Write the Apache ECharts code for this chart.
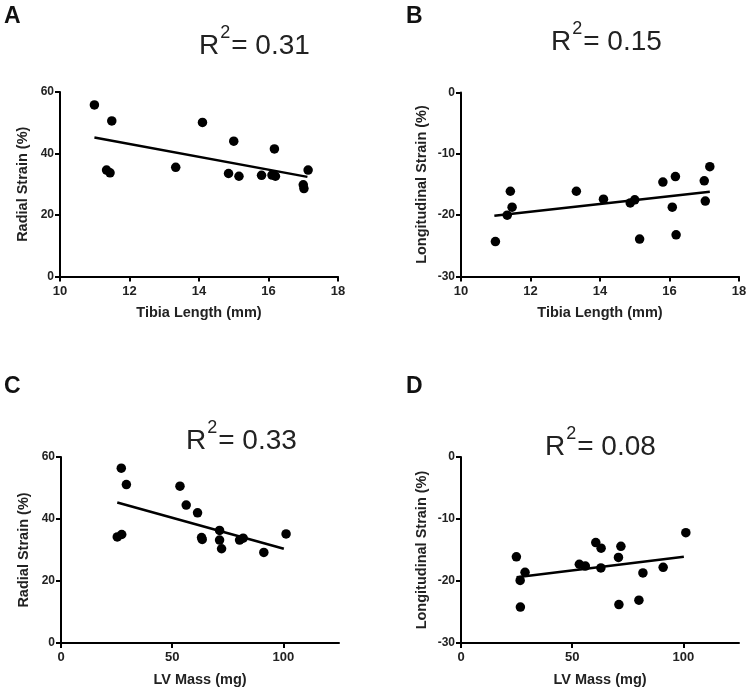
<!DOCTYPE html>
<html lang="en">
<head>
    <meta charset="UTF-8">
    <title>Strain vs size</title>
    <style>
        * { margin: 0; padding: 0; }
        html, body, #chart { width: 750px; height: 695px; overflow: hidden; background: #fff; }
    </style>
</head>
<body>
    <div id="chart"></div>
    <script src="https://cdn.jsdelivr.net/npm/echarts@6.0.0/dist/echarts.min.js"></script>
    <script>
        // values
        let tibiaA = [10.99, 11.49, 11.34, 11.44, 13.33, 14.10, 15.00, 14.85, 15.15, 16.17, 15.80, 16.10, 16.20, 17.14, 17.00, 17.02];
        let radialA = [55.8, 50.6, 34.6, 33.7, 35.5, 50.1, 44.0, 33.5, 32.6, 41.5, 32.9, 33.0, 32.6, 34.6, 29.8, 28.6];

        let tibiaB = [10.99, 11.33, 11.42, 11.47, 13.32, 14.10, 14.87, 15.00, 15.14, 15.81, 16.08, 16.17, 16.19, 17.00, 17.03, 17.16];
        let longB = [-24.3, -20.0, -16.1, -18.7, -16.1, -17.4, -18.0, -17.5, -23.9, -14.6, -18.7, -13.7, -23.2, -14.4, -17.7, -12.1];

        let massC = [27.1, 29.4, 25.3, 27.3, 53.5, 56.3, 61.4, 63.2, 63.5, 71.3, 71.3, 72.2, 80.3, 81.9, 91.2, 101.2];
        let radialC = [56.4, 51.1, 34.2, 35.0, 50.6, 44.5, 42.0, 34.0, 33.4, 36.3, 33.2, 30.4, 33.2, 33.8, 29.2, 35.2];

        let massD = [24.9, 26.6, 28.8, 26.7, 53.2, 55.9, 60.6, 63.0, 62.9, 71.9, 70.8, 71.0, 80.0, 81.8, 90.9, 101.1];
        let longD = [-16.1, -19.9, -18.6, -24.2, -17.3, -17.6, -13.8, -14.7, -17.9, -14.4, -16.2, -23.8, -23.1, -18.7, -17.8, -12.2];

        // regression line end points
        let fitA = [[10.99, 45.2], [17.12, 32.4]];
        let fitB = [[10.96, -20.1], [17.16, -16.2]];
        let fitC = [[25.3, 45.3], [100.2, 30.4]];
        let fitD = [[25.0, -19.4], [100.2, -16.1]];

        let panelLetters = ['A', 'B', 'C', 'D'];
        let r2Values = ['0.31', '0.15', '0.33', '0.08'];
        let massTicks = [0, 50, 100];

        let font = '"Liberation Sans", Arial, sans-serif';

        function pairs(xs, ys) {
            return xs.map((x, i) => [x, ys[i]]);
        }

        function xAxis(idx, name, isMass) {
            let ax = {
                gridIndex: idx,
                type: 'value',
                name: name,
                nameLocation: 'middle',
                nameGap: 29,
                nameTextStyle: { fontFamily: font, fontWeight: 'bold', fontSize: 14.5, color: '#222' },
                splitLine: { show: false },
                axisLine: { onZero: false, lineStyle: { color: '#000', width: 2 } },
                axisTick: { length: 5, lineStyle: { color: '#000', width: 2 } },
                axisLabel: { fontFamily: font, fontWeight: 'bold', fontSize: 13, color: '#222', margin: 8 }
            };
            if (isMass) {
                ax.min = 0;
                ax.max = 125;
                ax.axisTick.customValues = massTicks;
                ax.axisLabel.customValues = massTicks;
            } else {
                ax.min = 10;
                ax.max = 18;
                ax.interval = 2;
            }
            return ax;
        }

        function yAxis(idx, name, isLong) {
            return {
                gridIndex: idx,
                type: 'value',
                name: name,
                nameLocation: 'middle',
                nameGap: isLong ? 32 : 30,
                nameTextStyle: { fontFamily: font, fontWeight: 'bold', fontSize: 14.5, color: '#222' },
                min: isLong ? -30 : 0,
                max: isLong ? 0 : 60,
                interval: isLong ? 10 : 20,
                splitLine: { show: false },
                axisLine: { onZero: false, lineStyle: { color: '#000', width: 2 } },
                axisTick: { length: 5, lineStyle: { color: '#000', width: 2 } },
                axisLabel: { fontFamily: font, fontWeight: 'bold', fontSize: 12, color: '#222', margin: 6 }
            };
        }

        function scatter(idx, data) {
            return {
                type: 'scatter',
                xAxisIndex: idx,
                yAxisIndex: idx,
                data: data,
                symbolSize: 9.5,
                itemStyle: { color: '#000', opacity: 1 },
                z: 3
            };
        }

        function fitLine(idx, data) {
            return {
                type: 'line',
                xAxisIndex: idx,
                yAxisIndex: idx,
                data: data,
                symbol: 'none',
                lineStyle: { color: '#000', width: 2.5 },
                z: 2
            };
        }

        let letterPos = [[4, 5], [406, 5], [4, 375], [406, 375]];
        let r2Pos = [[199, 24], [551, 20], [186, 419], [545, 425]];

        let titles = [];
        panelLetters.forEach((l, i) => {
            titles.push({
                text: l,
                left: letterPos[i][0],
                top: letterPos[i][1],
                padding: 0,
                textStyle: { fontFamily: font, fontWeight: 'bold', fontSize: 23, color: '#111' }
            });
        });
        r2Values.forEach((v, i) => {
            titles.push({
                text: '{r|R}{s|2}{r|= ' + v + '}',
                left: r2Pos[i][0],
                top: r2Pos[i][1],
                padding: 0,
                textStyle: {
                    fontWeight: 'normal',
                    rich: {
                        r: { fontFamily: font, fontWeight: 'normal', fontSize: 28, color: '#222', lineHeight: 36, verticalAlign: 'bottom' },
                        s: { fontFamily: font, fontWeight: 'normal', fontSize: 18, color: '#222', lineHeight: 36, verticalAlign: 'top', padding: [0, 1, 0, 1] }
                    }
                }
            });
        });

        let option = {
            animation: false,
            backgroundColor: '#fff',
            title: titles,
            grid: [
                { left: 60, top: 92, width: 278, height: 184.5 },
                { left: 461, top: 92.5, width: 278, height: 184 },
                { left: 61, top: 457, width: 278, height: 186 },
                { left: 461, top: 457, width: 278, height: 186 }
            ],
            xAxis: [
                xAxis(0, 'Tibia Length (mm)', false),
                xAxis(1, 'Tibia Length (mm)', false),
                xAxis(2, 'LV Mass (mg)', true),
                xAxis(3, 'LV Mass (mg)', true)
            ],
            yAxis: [
                yAxis(0, 'Radial Strain (%)', false),
                yAxis(1, 'Longitudinal Strain (%)', true),
                yAxis(2, 'Radial Strain (%)', false),
                yAxis(3, 'Longitudinal Strain (%)', true)
            ],
            series: [
                fitLine(0, fitA), scatter(0, pairs(tibiaA, radialA)),
                fitLine(1, fitB), scatter(1, pairs(tibiaB, longB)),
                fitLine(2, fitC), scatter(2, pairs(massC, radialC)),
                fitLine(3, fitD), scatter(3, pairs(massD, longD))
            ]
        };

        let myChart = echarts.init(document.getElementById('chart'), null, { renderer: 'canvas' });
        myChart.setOption(option, true);
    </script>
</body>
</html>
